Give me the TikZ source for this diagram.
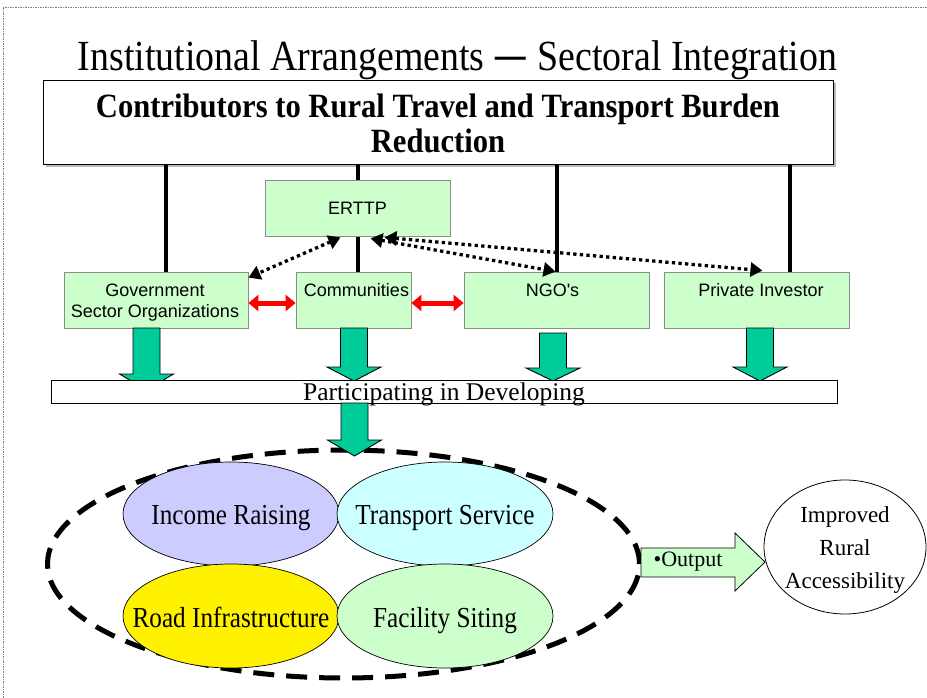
\documentclass[tikz,border=0pt]{standalone}
\usepackage{fontspec}
\setmainfont{Liberation Serif}
\setsansfont{Liberation Sans}
\newfontfamily\boxfont{Liberation Sans}
\newfontfamily\titlefont[FakeStretch=0.88]{Liberation Serif}
\newfontfamily\dashfont[FakeStretch=0.8]{DejaVu Sans}
\newfontfamily\condbold[FakeStretch=0.9]{Liberation Serif}
\newfontfamily\ellfont[FakeStretch=0.87]{Liberation Serif}
\usetikzlibrary{arrows.meta,calc,shapes.geometric}
\definecolor{lgreen}{HTML}{CCFFCC}
\definecolor{bgreen}{HTML}{00CC99}
\definecolor{lblue}{HTML}{CCCCFF}
\definecolor{lcyan}{HTML}{CCFFFF}
\definecolor{boxgray}{HTML}{8C8C8C}
\newcommand{\blockdown}[4]{%
  \draw[garrow] (#1-13.5,#2) -- (#1+13.5,#2) -- (#1+13.5,#3) -- (#1+27,#3) -- (#1,#4) -- (#1-27,#3) -- (#1-13.5,#3) -- cycle;}
\begin{document}
\begin{tikzpicture}[x=1pt,y=-1pt,
  greenbox/.style={draw=boxgray, fill=lgreen, line width=0.8pt, inner sep=0pt, minimum width=#1, minimum height=56pt},
  boxtext/.style={font=\boxfont\fontsize{18pt}{21pt}\selectfont, anchor=base, align=center},
  vline/.style={line width=4pt},
  dotarrow/.style={line width=3.3pt, dash pattern=on 3.3pt off 3.3pt, {Triangle[width=14pt,length=12pt]}-{Triangle[width=14pt,length=12pt]}},
  redarrow/.style={red, line width=5pt, {Triangle[width=16pt,length=10pt]}-{Triangle[width=16pt,length=10pt]}},
  garrow/.style={draw=black, fill=bgreen, line width=0.9pt, line join=miter},
  oval/.style={ellipse, draw=black, line width=0.7pt, minimum width=216pt, minimum height=104pt, inner sep=0pt},
  ovaltext/.style={font=\ellfont\fontsize{29pt}{32pt}\selectfont, anchor=base}
]
\useasboundingbox (0,0) rectangle (927,698);
\fill[white] (0,0) rectangle (927,698);
% page border
\draw[gray, line width=0.6pt, dash pattern=on 1.5pt off 1pt] (3,705) -- (3,7) -- (935,7);

% title
\node[font=\titlefont\fontsize{43pt}{46pt}\selectfont, anchor=base] (title) at (457.5,71) {Institutional Arrangements {\dashfont —} Sectoral Integration};

% top box
\fill[gray!55] (46,83) rectangle (836,167);
\node[draw=black, fill=white, line width=0.9pt, minimum width=790pt, minimum height=84pt, inner sep=0pt] (top) at (438,122) {};
\node[font=\condbold\bfseries\fontsize{34pt}{35pt}\selectfont, anchor=base, align=center] (toptext) at (438,153)
  {Contributors to Rural Travel and Transport Burden\\Reduction};

% agent boxes
\node[greenbox=184pt] (gov) at (156,300) {};
\node[greenbox=115pt] (comm) at (353.5,300) {};
\node[greenbox=185pt] (ngo) at (556.5,300) {};
\node[greenbox=185pt] (priv) at (756.5,300) {};

% vertical connectors
\coordinate (g1) at ($(gov.north)+(10,0)$);
\coordinate (c1) at ($(comm.north)+(4.5,0)$);
\coordinate (n1) at ($(ngo.north)+(0.5,0)$);
\coordinate (p1) at ($(priv.north)+(33.5,0)$);
\draw[vline] (g1 |- top.south) -- (g1);
\draw[vline] (c1 |- top.south) -- (c1);
\draw[vline] (n1 |- top.south) -- (n1);
\draw[vline] (p1 |- top.south) -- (p1);

% ERTTP
\node[greenbox=185pt] (erttp) at (357.5,208) {};
\node[boxtext] at ($(erttp.center)+(0,6.5)$) {ERTTP};

% box texts
\node[boxtext] (govtext) at ($(gov.north)+(-1,46)$) {Government\\Sector Organizations};
\node[boxtext] at ($(comm.north)+(3,25)$) {Communities};
\node[boxtext] at ($(ngo.north)+(-4,25)$) {NGO's};
\node[boxtext] at ($(priv.north)+(4.5,25)$) {Private Investor};

% dotted double arrows
\draw[dotarrow] ($(erttp.south)+(-17,1)$) -- ($(gov.north east)+(0,6)$);
\draw[dotarrow] ($(erttp.south)+(13,2)$) -- ($(ngo.north)+(-1,0)$);
\draw[dotarrow] ($(erttp.south)+(27,1)$) -- ($(priv.north)+(6,-1)$);

% red double arrows
\draw[redarrow] ($(gov.east)+(0,3)$) -- ($(comm.west)+(0,3)$);
\draw[redarrow] ($(comm.east)+(0,3)$) -- ($(ngo.west)+(0,3)$);

% green block arrows to bar
\blockdown{146.5}{328}{374}{390}
\blockdown{354}{328}{367}{381}
\blockdown{553}{333}{368}{381}
\blockdown{760}{328}{367}{381}

% bar
\node[draw=black, fill=white, line width=1pt, minimum width=786pt, minimum height=23pt, inner sep=0pt] (bar) at (444,391.5) {};
\node[font=\fontsize{25.5pt}{28pt}\selectfont, anchor=base] (bartext) at (444,400) {Participating in Developing};

% group
\node[ellipse, draw=black, line width=5pt, dash pattern=on 21pt off 12pt, minimum width=592pt, minimum height=228pt] (group) at (343.5,564) {};
\node[oval, fill=lblue] (inc) at (231,514) {};
\node[oval, fill=lcyan] (trs) at (445,514) {};
\node[oval, fill=yellow] (road) at (231,616) {};
\node[oval, fill=lgreen] (fac) at (445,616) {};
\node[ovaltext] at ($(inc.center)+(0,10)$) {Income Raising};
\node[ovaltext] at ($(trs.center)+(0,10)$) {Transport Service};
\node[ovaltext] at ($(road.center)+(0,11)$) {Road Infrastructure};
\node[ovaltext] at ($(fac.center)+(0,11)$) {Facility Siting};

% arrow from bar to group
\blockdown{354.5}{403}{440}{456}

% output
\node[ellipse, draw=black, line width=0.8pt, minimum width=162pt, minimum height=134pt, inner sep=0pt] (impr) at (845,547) {};
\node[font=\fontsize{23pt}{33pt}\selectfont, align=center, anchor=base] (imprtext) at (845,588) {Improved\\Rural\\Accessibility};
\coordinate (otip) at (765,562);
\draw[draw=black, fill=lgreen, line width=0.8pt] (641,548) -- (735,548) -- (735,533) -- (otip) -- (735,591) -- (735,577) -- (641,577) -- cycle;
\node[font=\fontsize{22pt}{24pt}\selectfont] (outtext) at (688,562) {•Output};
\end{tikzpicture}
\end{document}
